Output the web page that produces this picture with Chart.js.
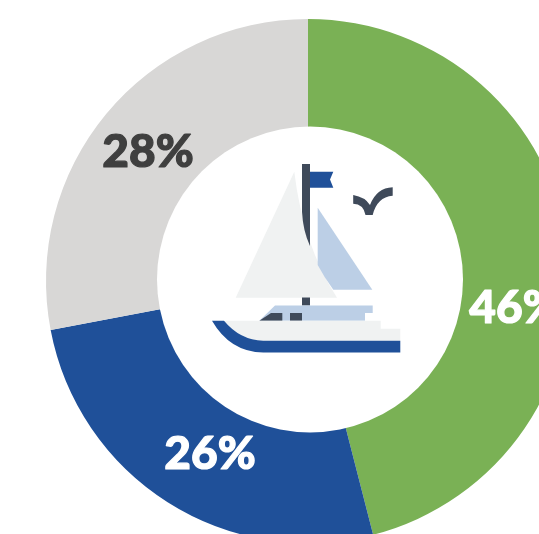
<!DOCTYPE html>
<html>
<head>
<meta charset="utf-8">
<style>
html,body{margin:0;padding:0;background:#fff;overflow:hidden;width:539px;height:534px}
canvas{position:absolute;left:0;top:0}
</style>
<script src="https://cdn.jsdelivr.net/npm/chart.js@4"></script>
</head>
<body>
<canvas id="c" width="616" height="562" style="width:616px;height:562px"></canvas>
<script>
const categories = ["Green", "Blue", "Grey"];
const seriesValues = [46, 26, 28];
const sliceColors = ["#7AB155", "#1F5099", "#D8D7D6"];
const labelTexts = ["46%", "26%", "28%"];
const labelColors = ["#FFFFFF", "#FFFFFF", "#3F3F3F"];
const labelAnchors = [[515, 308], [210, 454], [148, 152]];

const iconShapes = [
  ["#F0F2F2", "M294.3 171.7 L235.7 297.7 L337 297.7 Q303 245 294.3 171.7 Z"],
  ["#BCCFE6", "M317.7 207.7 L372.3 289.7 L333.3 289.7 Q324 277 317.7 265 Z"],
  ["#3F4A5A", "M302 164 L310 164 L310 246 Q303 231 302 212 Z"],
  ["#3F4A5A", "M302 297.5 H310 V305.5 H302 Z"],
  ["#1F5099", "M310 171.7 L333.3 171.7 L330 179.5 L333.3 187.7 L310 187.7 Z"],
  ["#3F4A5A", "M353.2 195 Q365 197 370 205 Q376.5 188 392.7 187.3 L392.7 195.7 Q377 197 372.7 215 L365.5 215 Q363.5 204 353.2 203.7 Z"],
  ["#BCCFE6", "M275 305.5 L372.7 305.5 L372.7 313 L365 313 L365 320.7 L259.3 320.7 Z"],
  ["#3F4A5A", "M259.3 320.7 L271 313 L282.3 313 L282.3 320.7 Z"],
  ["#3F4A5A", "M290 313 H302 V320.7 H290 Z"],
  ["#F0F2F2", "M224 320.7 L380.7 320.7 L380.7 328.7 L400.3 328.7 L400.3 340.7 L263.3 340.7 Q240 340 224 320.7 Z"],
  ["#1F5099", "M212 320.7 L224 320.7 Q240 340 263.3 340.7 L400.3 340.7 L400.3 352.5 L263.3 352.5 Q230 352 212 320.7 Z"]
];

const overlay = {
  id: "overlay",
  afterDatasetsDraw(chart) {
    const ctx = chart.ctx;
    ctx.save();
    ctx.fillStyle = "#FFFFFF";
    ctx.beginPath();
    ctx.arc(310, 279.5, 153, 0, Math.PI * 2);
    ctx.fill();
    iconShapes.forEach(([fill, d]) => {
      ctx.fillStyle = fill;
      ctx.fill(new Path2D(d));
    });
    ctx.font = "900 46px Lato, 'Noto Sans', sans-serif";
    ctx.textAlign = "center";
    ctx.textBaseline = "middle";
    ctx.lineWidth = 1.2;
    ctx.lineJoin = "round";
    labelTexts.forEach((t, i) => {
      ctx.fillStyle = labelColors[i];
      ctx.strokeStyle = labelColors[i];
      ctx.fillText(t, labelAnchors[i][0], labelAnchors[i][1]);
      ctx.strokeText(t, labelAnchors[i][0], labelAnchors[i][1]);
    });
    ctx.restore();
  }
};

new Chart(document.getElementById("c"), {
  type: "doughnut",
  data: {
    labels: categories,
    datasets: [{
      data: seriesValues,
      backgroundColor: sliceColors,
      borderWidth: 0
    }]
  },
  options: {
    responsive: false,
    animation: false,
    radius: 262,
    cutout: "55%",
    rotation: 0,
    layout: { padding: 0 },
    plugins: { legend: { display: false }, tooltip: { enabled: false } }
  },
  plugins: [overlay]
});
</script>
</body>
</html>
